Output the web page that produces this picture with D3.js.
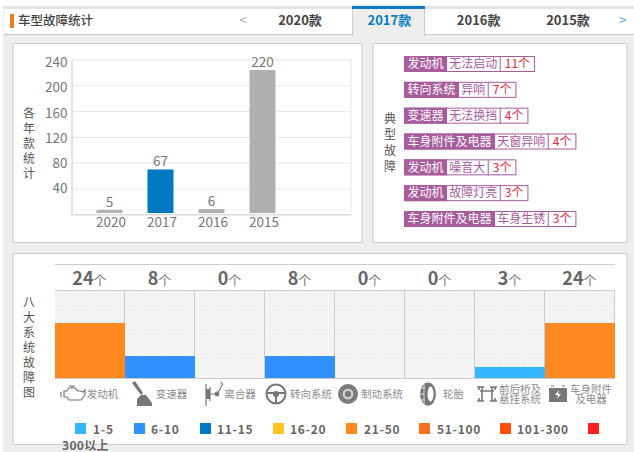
<!DOCTYPE html>
<html>
<head>
<meta charset="utf-8">
<script src="https://cdn.jsdelivr.net/npm/d3@7"></script>
<style>
    html, body { margin: 0; padding: 0; background: #fff; overflow: hidden; }
    svg { display: block; }
    text { font-family: "Noto Sans CJK SC", "Noto Sans", sans-serif; }
    .axis path, .axis line { fill: none; }
</style>
</head>
<body>
<div id="chart"></div>
<script>
// year chart
var years = ["2020", "2017", "2016", "2015"];
var yearCounts = [5, 67, 6, 220];
var yearTicks = [40, 80, 120, 160, 200, 240];
var tabs = ["2020款", "2017款", "2016款", "2015款"];
var selectedYear = "2017";

// typical faults
var faultParts = ["发动机", "转向系统", "变速器", "车身附件及电器", "发动机", "发动机", "车身附件及电器"];
var faultNames = ["无法启动", "异响", "无法换挡", "天窗异响", "噪音大", "故障灯亮", "车身生锈"];
var faultCounts = [11, 7, 4, 4, 3, 3, 3];

// eight systems
var systems = [["发动机"], ["变速器"], ["离合器"], ["转向系统"], ["制动系统"], ["轮胎"], ["前后桥及", "悬挂系统"], ["车身附件", "及电器"]];
var systemCounts = [24, 8, 0, 8, 0, 0, 3, 24];

// legend
var legendLabels = ["1-5", "6-10", "11-15", "16-20", "21-50", "51-100", "101-300", "300以上"];
var legendColors = ["#33b5ff", "#3092ff", "#0079c1", "#ffc41e", "#ff8820", "#ff6f20", "#ff5010", "#ff2020"];
var legendBreaks = [1, 6, 11, 16, 21, 51, 101, 301];

var svg = d3.select("#chart").append("svg").attr("width", 634).attr("height", 452);
var defs = svg.append("defs");

var dots = defs.append("pattern").attr("id", "dots").attr("width", 3).attr("height", 3)
    .attr("patternUnits", "userSpaceOnUse");
dots.append("rect").attr("width", 3).attr("height", 3).attr("fill", "#f4f4f4");
dots.append("rect").attr("width", 1).attr("height", 1).attr("fill", "#e9e9e9");

/* PAGE + HEADER */
svg.append("rect").attr("x", 3).attr("y", 6).attr("width", 631).attr("height", 446).attr("fill", "#eee");
svg.append("rect").attr("x", 3).attr("y", 6).attr("width", 631).attr("height", 3).attr("fill", "#e4e4e4");
svg.append("rect").attr("x", 4).attr("y", 9).attr("width", 630).attr("height", 25).attr("fill", "#fff");
svg.append("rect").attr("x", 4).attr("y", 34).attr("width", 630).attr("height", 1).attr("fill", "#ccc");
svg.append("rect").attr("x", 10).attr("y", 14).attr("width", 4).attr("height", 14).attr("fill", "#f57c14");
svg.append("text").attr("x", 18).attr("y", 25).attr("font-size", 12.5).attr("font-weight", 500)
    .attr("fill", "#444").text("车型故障统计");

var tabX = d3.scalePoint().domain(tabs).range([300, 568]);
var selTab = svg.append("g");
selTab.append("rect").attr("x", 352.5).attr("y", 6).attr("width", 72).attr("height", 29.5)
    .attr("fill", "#eee").attr("stroke", "#ccc");
selTab.append("rect").attr("x", 352).attr("y", 6).attr("width", 73).attr("height", 3).attr("fill", "#0a7cc4");
svg.append("rect").attr("x", 353).attr("y", 34).attr("width", 71).attr("height", 2).attr("fill", "#eee");

svg.selectAll(".tab").data(tabs).enter().append("text")
    .attr("class", "tab")
    .attr("x", function(d){ return tabX(d); })
    .attr("y", 25)
    .attr("text-anchor", "middle")
    .attr("font-size", 13)
    .attr("font-weight", 700)
    .attr("fill", function(d){ return d.indexOf(selectedYear) === 0 ? "#0a7cc4" : "#444"; })
    .text(function(d){ return d; });
svg.append("text").attr("x", 243).attr("y", 25).attr("text-anchor", "middle").attr("font-size", 13)
    .attr("fill", "#aaa").text("<");
svg.append("text").attr("x", 622.5).attr("y", 25).attr("text-anchor", "middle").attr("font-size", 13)
    .attr("fill", "#5a9fdc").text(">");

/* PANELS */
var panels = [[13, 43, 349, 199], [373, 43, 254, 199], [13, 253, 614, 191]];
svg.selectAll(".panel").data(panels).enter().append("rect")
    .attr("class", "panel")
    .attr("x", function(d){ return d[0]; })
    .attr("y", function(d){ return d[1] + 0.5; })
    .attr("width", function(d){ return d[2]; })
    .attr("height", function(d){ return d[3]; })
    .attr("fill", "#fff")
    .attr("stroke", "#ccc");

// one text element, one tspan per character
function verticalLabel(str, x, y0, step, color){
    var t = svg.append("text")
        .attr("text-anchor", "middle")
        .attr("font-size", 12)
        .attr("fill", color);
    t.selectAll("tspan").data(str.split("")).enter().append("tspan")
        .attr("x", x)
        .attr("y", function(d, i){ return y0 + i * step + 4.5; })
        .text(function(d){ return d; });
}

/* YEAR CHART */
verticalLabel("各年款统计", 29, 113, 15, "#555");

var gridY = d3.scaleLinear().domain([0, 240]).range([214.3, 59.5]);
var barY = d3.scaleLinear().domain([0, 240]).range([213, 57]);
// tick labels drift slightly off the grid in the source
var tickLabelY = d3.scaleLinear().domain([40, 240]).range([188, 62.5]);
var yearX = d3.scalePoint().domain(years).range([109.5, 262.5]);
var barWidth = 26;

var grid = svg.append("g").attr("class", "axis")
    .call(d3.axisRight(gridY).tickValues(yearTicks).tickSize(279.5).tickFormat(""))
    .attr("transform", "translate(71.5,0)");
grid.select(".domain").remove();
grid.selectAll("line").attr("stroke", "#e6e6e6");

svg.append("line").attr("x1", 351).attr("x2", 351).attr("y1", 59).attr("y2", 215).attr("stroke", "#e6e6e6");

var yAxis = svg.append("g").attr("class", "axis")
    .attr("transform", "translate(71.5,0)")
    .call(d3.axisLeft(gridY).tickValues(yearTicks).tickSize(0).tickPadding(4));
yAxis.select(".domain").attr("stroke", "#ccc");
yAxis.selectAll("text").attr("font-size", 13.5).attr("fill", "#777")
    .attr("y", function(d){ return tickLabelY(d) - gridY(d); })
    .style("font-family", '"Noto Sans CJK SC", "Noto Sans", sans-serif');

svg.selectAll(".year-bar").data(years).enter().append("rect")
    .attr("class", "year-bar")
    .attr("x", function(d){ return yearX(d) - barWidth / 2; })
    .attr("y", function(d, i){ return barY(yearCounts[i]); })
    .attr("width", barWidth)
    .attr("height", function(d, i){ return barY(0) - barY(yearCounts[i]); })
    .attr("fill", function(d){ return d === selectedYear ? "#0079c1" : "#b0b0b0"; });

svg.selectAll(".year-value").data(years).enter().append("text")
    .attr("class", "year-value")
    .attr("x", function(d){ return yearX(d); })
    .attr("y", function(d, i){ return barY(yearCounts[i]) - 3; })
    .attr("text-anchor", "middle")
    .attr("font-size", 13.5)
    .attr("fill", "#777")
    .text(function(d, i){ return yearCounts[i]; });

var xAxis = svg.append("g").attr("class", "axis")
    .attr("transform", "translate(0,214.7)")
    .call(d3.axisBottom(yearX).tickSize(0).tickPadding(3));
xAxis.select(".domain").remove();
xAxis.selectAll("text").attr("font-size", 13.5).attr("fill", "#777")
    .attr("dx", 1)
    .style("font-family", '"Noto Sans CJK SC", "Noto Sans", sans-serif');
svg.append("rect").attr("x", 71).attr("y", 214).attr("width", 280.5).attr("height", 1.5).attr("fill", "#ddd");

/* TYPICAL FAULTS */
verticalLabel("典型故障", 390, 118, 16, "#555");

var rowY = d3.scalePoint().domain(d3.range(faultParts.length)).range([56, 211]);
var rowH = 16;
var tagColor = "#a85c9e";

var measure = svg.append("text").attr("font-size", 12).attr("visibility", "hidden");
function textWidth(str){
    return measure.text(str).node().getComputedTextLength();
}

faultParts.forEach(function(part, i){
    var y = rowY(i);
    var row = svg.append("g").attr("transform", "translate(0," + y + ")");
    var x = 404;
    var w1 = textWidth(part) + 7;
    var w2 = textWidth(faultNames[i]) + 4.7;
    var w3 = textWidth(faultCounts[i] + "个") + 10;

    row.append("rect").attr("x", x + 0.5).attr("y", 0.5).attr("width", w1 + w2 + w3 - 1).attr("height", rowH - 1)
        .attr("fill", "#fff").attr("stroke", tagColor);
    row.append("rect").attr("x", x).attr("y", 0).attr("width", w1).attr("height", rowH).attr("fill", tagColor);
    row.append("line").attr("x1", x + w1 + w2 + 0.5).attr("x2", x + w1 + w2 + 0.5).attr("y1", 0).attr("y2", rowH)
        .attr("stroke", tagColor);
    row.append("text").attr("x", x + 3.5).attr("y", 12.3).attr("font-size", 12).attr("fill", "#fff").text(part);
    row.append("text").attr("x", x + w1 + 2.3).attr("y", 12.3).attr("font-size", 12).attr("fill", tagColor).text(faultNames[i]);
    row.append("text").attr("x", x + w1 + w2 + 5).attr("y", 12.3).attr("font-size", 12).attr("fill", "#f0243c").text(faultCounts[i] + "个");
});

/* EIGHT SYSTEMS */
verticalLabel("八大系统故障图", 29, 302, 15, "#555");

var sysX = d3.scaleBand().domain(d3.range(systems.length)).range([55, 615]);
var levelOf = d3.scaleThreshold().domain(legendBreaks).range(d3.range(legendBreaks.length + 1));
var levelY = d3.scaleLinear().domain([0, legendBreaks.length]).range([378, 290]);

svg.append("line").attr("x1", 55).attr("x2", 615).attr("y1", 264.5).attr("y2", 264.5).attr("stroke", "#ccc");

svg.selectAll(".cell").data(systemCounts).enter().append("rect")
    .attr("class", "cell")
    .attr("x", function(d, i){ return sysX(i); })
    .attr("y", levelY(legendBreaks.length))
    .attr("width", sysX.bandwidth())
    .attr("height", levelY(0) - levelY(legendBreaks.length))
    .attr("fill", "url(#dots)");

svg.selectAll(".sep").data(d3.range(1, systems.length)).enter().append("line")
    .attr("class", "sep")
    .attr("x1", function(d){ return sysX(d) - 0.5; })
    .attr("x2", function(d){ return sysX(d) - 0.5; })
    .attr("y1", 290)
    .attr("y2", 378)
    .attr("stroke", "#ccc");
svg.append("line").attr("x1", 55).attr("x2", 615).attr("y1", 290.5).attr("y2", 290.5).attr("stroke", "#ccc");
svg.append("line").attr("x1", 614.5).attr("x2", 614.5).attr("y1", 290).attr("y2", 378).attr("stroke", "#ccc");
svg.append("line").attr("x1", 55).attr("x2", 615).attr("y1", 378.5).attr("y2", 378.5).attr("stroke", "#ccc");

svg.selectAll(".sys-bar").data(systemCounts).enter().append("rect")
    .attr("class", "sys-bar")
    .attr("x", function(d, i){ return sysX(i); })
    .attr("y", function(d){ return levelY(levelOf(d)); })
    .attr("width", sysX.bandwidth())
    .attr("height", function(d){ return levelY(0) - levelY(levelOf(d)); })
    .attr("fill", function(d){ return levelOf(d) > 0 ? legendColors[levelOf(d) - 1] : "none"; });

var sysLabels = svg.selectAll(".sys-value").data(systemCounts).enter().append("text")
    .attr("class", "sys-value")
    .attr("x", function(d, i){ return sysX(i) + sysX.bandwidth() / 2 - 0.5; })
    .attr("y", 285)
    .attr("text-anchor", "middle");
sysLabels.append("tspan").attr("font-size", 18).attr("font-weight", 700).attr("fill", "#666")
    .text(function(d){ return d; });
sysLabels.append("tspan").attr("font-size", 13).attr("fill", "#777").text("个");

// system names, right of the icons
var nameX = [102.5, 171.5, 240, 311, 382, 453.5, 520, 591];
systems.forEach(function(lines, i){
    var y0 = lines.length === 1 ? 397.5 : 392.7;
    var t = svg.append("text")
        .attr("text-anchor", "middle")
        .attr("font-size", 10.5)
        .attr("fill", "#8c8c8c");
    lines.forEach(function(line, j){
        t.append("tspan").attr("x", nameX[i]).attr("y", y0 + j * 10).text(line);
    });
});

// icons, one small drawing per system
var iconColor = "#777";
function icon(cx, cy){
    return svg.append("g").attr("transform", "translate(" + cx + "," + cy + ")")
        .attr("fill", "none").attr("stroke", iconColor).attr("stroke-width", 1.2);
}

var engine = icon(72, 394);
engine.append("path").attr("d", "M-8,-3 h3 l2,-3 h6 l3,3 h2 l3,1 l2,-2 v5 l-4,5 h-12 l-2,-3 h-3 z");
engine.append("path").attr("d", "M-3,-8 h6 M-11,-2 v5 M0,-8 v2");

var gear = icon(142, 394);
gear.append("path").attr("fill", iconColor).attr("stroke", "none")
    .attr("d", "M-10,-11 l3,-2 l8,12 l-2,2 z M-5,5 l4,-4 h5 l6,8 v3 h-15 z");

var clutch = icon(213, 394);
clutch.append("path").attr("d", "M-7,-10 v22 M-3,-7 v14 M-3,0 h7 l3,-5 l2,-4 M8,-12 l2,3");
clutch.append("rect").attr("x", -7).attr("y", -5).attr("width", 4).attr("height", 10).attr("fill", iconColor).attr("stroke", "none");
clutch.append("circle").attr("cx", 4).attr("cy", 0).attr("r", 1.8).attr("fill", iconColor);

var wheel = icon(276, 394);
wheel.append("circle").attr("r", 9.5).attr("stroke-width", 2);
wheel.append("circle").attr("r", 2.5).attr("fill", iconColor);
wheel.append("path").attr("stroke-width", 2).attr("d", "M-9,-1 h18 M0,1 v8");

var brake = icon(348, 394);
brake.append("circle").attr("r", 10).attr("fill", iconColor).attr("stroke", "none");
brake.append("circle").attr("r", 5.5).attr("fill", "#ccc").attr("stroke", "none");
brake.append("circle").attr("r", 3).attr("fill", iconColor).attr("stroke", "none");
brake.append("circle").attr("r", 8).attr("stroke", "#aaa").attr("stroke-width", 0.6).attr("stroke-dasharray", "1.5 2");

var tire = icon(428, 394);
tire.append("ellipse").attr("rx", 8).attr("ry", 11.5).attr("fill", iconColor).attr("stroke", "none");
tire.append("ellipse").attr("cx", 2.5).attr("rx", 3).attr("ry", 7.5).attr("fill", "#fff").attr("stroke", "none");
tire.append("path").attr("stroke", "#fff").attr("stroke-width", 0.7).attr("d", "M-4,-10 v20 M-7,-6 h4 M-8,0 h4 M-7,6 h4");

var axle = icon(487, 394);
axle.append("path").attr("stroke-width", 1.6).attr("d", "M-5,-7 v14 M5,-7 v14 M-7,-3 h14 M-10,-7 h7 M3,-7 h7 M-10,7 h7 M3,7 h7 M-8,-7 v3 M8,-7 v3 M-8,4 v3 M8,4 v3");

var battery = icon(558, 394);
battery.append("rect").attr("x", -9).attr("y", -6).attr("width", 18).attr("height", 14).attr("fill", iconColor).attr("stroke", "none");
battery.append("path").attr("d", "M-7,-8 h3 M4,-8 h3");
battery.append("path").attr("fill", "#fff").attr("stroke", "none").attr("d", "M1,-4 l-4,5 h3 l-1,4 l4,-5 h-3 z");

/* LEGEND */
var swatchX = [75, 134, 200, 273, 346, 419, 500, 588];
var legendTextX = [93, 151, 217, 290, 364, 437, 517, 62];

svg.selectAll(".swatch").data(legendColors).enter().append("rect")
    .attr("class", "swatch")
    .attr("x", function(d, i){ return swatchX[i]; })
    .attr("y", 423)
    .attr("width", 11)
    .attr("height", 11)
    .attr("fill", function(d){ return d; });

svg.selectAll(".legend-label").data(legendLabels).enter().append("text")
    .attr("class", "legend-label")
    .attr("x", function(d, i){ return legendTextX[i]; })
    .attr("y", function(d, i){ return i === legendLabels.length - 1 ? 450 : 434; })
    .attr("font-size", 12)
    .attr("font-weight", 700)
    .attr("letter-spacing", function(d, i){ return i === legendLabels.length - 1 ? 0.3 : 0.7; })
    .attr("fill", "#666")
    .text(function(d){ return d; });
</script>
</body>
</html>
